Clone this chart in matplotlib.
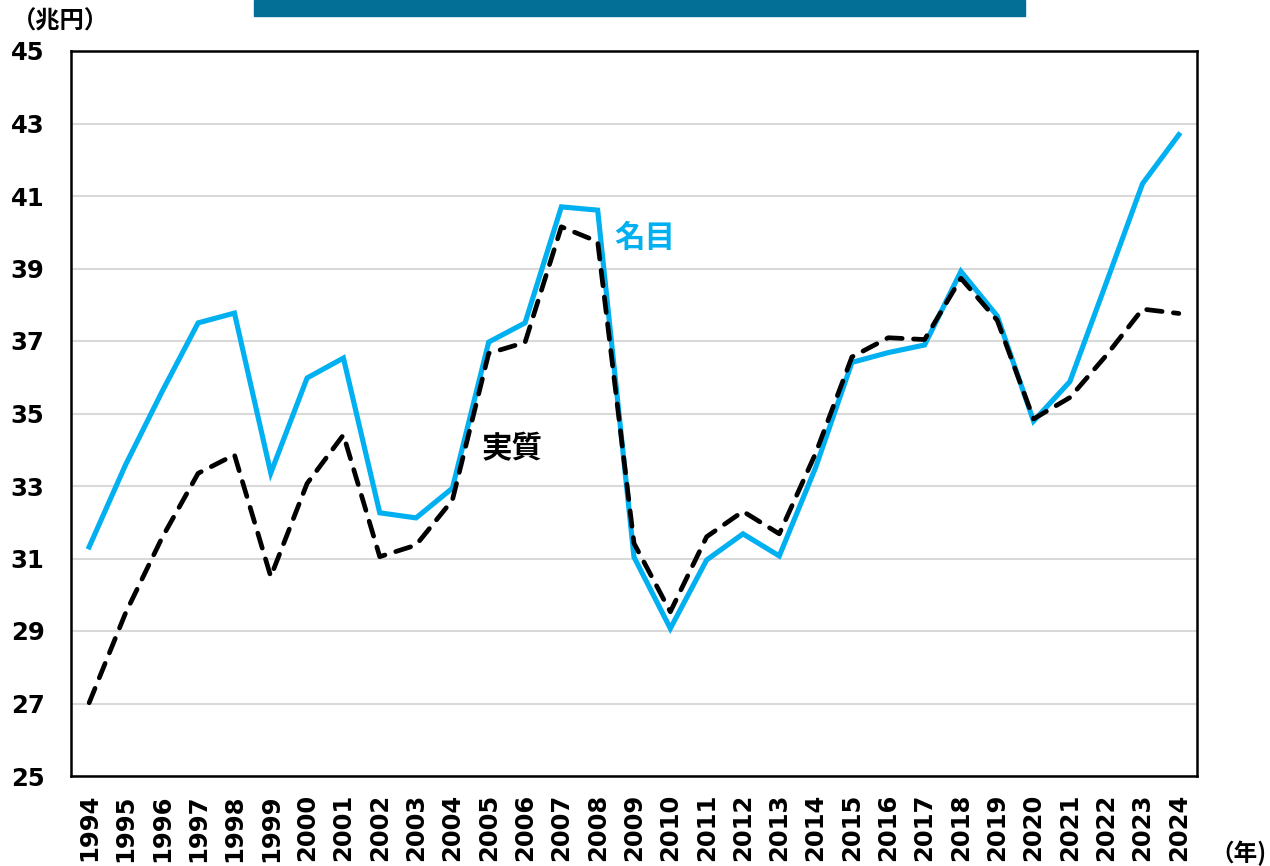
import matplotlib.pyplot as plt
from matplotlib.patches import Rectangle

plt.rcParams["font.family"] = ["DejaVu Sans", "Noto Sans CJK JP"]
cjk = ["Noto Sans CJK JP", "DejaVu Sans"]

# 年次データ（兆円）
years = [str(y) for y in range(1994, 2025)]
nominal = [31.32, 33.58, 35.59, 37.50, 37.77, 33.36, 35.98, 36.53, 32.26, 32.12,
           32.94, 36.97, 37.50, 40.70, 40.61, 31.04, 29.07, 30.96, 31.68, 31.07,
           33.51, 36.41, 36.68, 36.89, 38.92, 37.69, 34.79, 35.88, 38.60, 41.34,
           42.69]
real = [27.02, 29.49, 31.56, 33.35, 33.86, 30.50, 33.07, 34.41, 31.05, 31.37,
        32.61, 36.66, 36.96, 40.15, 39.74, 31.42, 29.53, 31.60, 32.30, 31.68,
        33.90, 36.56, 37.09, 37.04, 38.73, 37.57, 34.85, 35.44, 36.60, 37.88,
        37.76]
yticks = list(range(25, 46, 2))

fig = plt.figure(figsize=(12.7, 8.66), dpi=100)
ax = fig.add_axes([71 / 1270, 90 / 866, 1126 / 1270, 725 / 866])

x = range(len(years))
ax.plot(x, nominal, color="#00B0F0", lw=3.7, solid_joinstyle="miter", zorder=3)
ax.plot(x, real, color="black", lw=3.4, dashes=(3.3, 2.4),
        dash_capstyle="round", zorder=4)

ax.set_xlim(-0.5, len(years) - 0.5)
ax.set_ylim(25, 45)
ax.set_yticks(yticks)
ax.set_xticks(list(x))
ax.set_xticklabels(years, rotation=90, fontsize=17.5, fontweight="bold")
ax.set_yticklabels([str(v) for v in yticks], fontsize=17.5, fontweight="bold")
ax.tick_params(axis="both", length=0)
ax.tick_params(axis="x", pad=13)
ax.tick_params(axis="y", pad=19)
ax.grid(axis="y", color="#D9D9D9", lw=1.5, zorder=0)
for s in ax.spines.values():
    s.set_linewidth(1.8)
    s.set_color("black")

ax.text(15.3, 39.84, "名目", color="#00B0F0", fontsize=22, fontweight="bold",
        ha="center", va="center", family=cjk)
ax.text(11.65, 34.02, "実質", color="black", fontsize=22, fontweight="bold",
        ha="center", va="center", family=cjk)

fig.text(12 / 1270, 1 - 21 / 866, "（兆円）", fontsize=17.5, fontweight="bold",
         ha="left", va="center", family=cjk)
fig.text(1267 / 1270, 1 - 853 / 866, "（年)", fontsize=17, fontweight="bold",
         ha="right", va="center", family=cjk)

# 上部の帯
fig.patches.append(Rectangle((254 / 1270, 1 - 16 / 866), 771 / 1270, 16 / 866,
                             transform=fig.transFigure, color="#036E96"))

fig.savefig("out.png", dpi=100)
